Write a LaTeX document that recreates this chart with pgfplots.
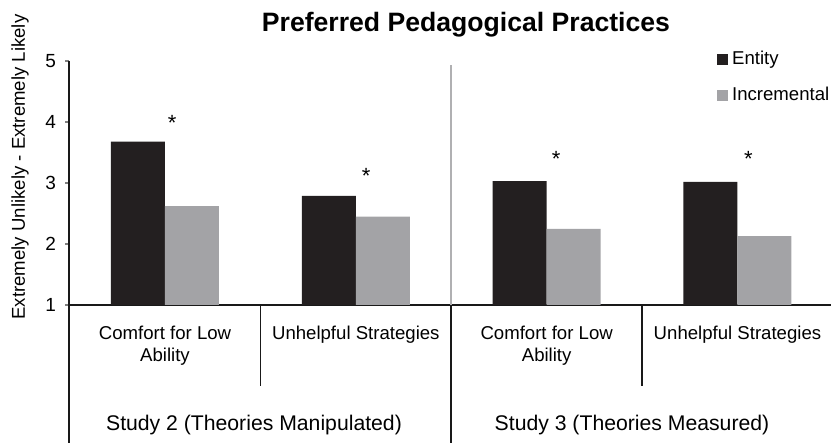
\documentclass[border=0pt]{standalone}
\usepackage{fontspec}
\setmainfont{Liberation Sans}
\usepackage{pgfplots}
\pgfplotsset{compat=1.18}
\definecolor{entity}{HTML}{231F20}
\definecolor{incr}{HTML}{A3A3A6}
\definecolor{sepgray}{HTML}{B0B0B2}
\begin{document}
\begin{tikzpicture}
\path[use as bounding box] (0pt,0pt) rectangle (415.5pt,-221.5pt);
\begin{axis}[
  at={(34.5pt,-152.5pt)}, anchor=south west,
  scale only axis, width=381pt, height=122pt,
  xmin=-0.503, xmax=3.49, ymin=1, ymax=5,
  axis lines=left, axis line style={-, line width=0.9pt, color=black!90},
  clip mode=individual,
  xtick={0,1,2,3},
  xticklabels={{Comfort for Low\\Ability},{Unhelpful Strategies},{Comfort for Low\\Ability},{Unhelpful Strategies}},
  xtick style={draw=none},
  xticklabel style={align=center, anchor=north, yshift=-5pt, font=\fontsize{9.3}{11}\selectfont},
  ytick={1,2,3,4,5},
  ytick style={line width=0.8pt},
  tick align=outside, major tick length=2pt,
  yticklabel style={font=\fontsize{9.5}{11}\selectfont, xshift=-1pt},
  /pgf/number format/assume math mode=true,
  legend style={at={(axis description cs:0.85,1.06)}, anchor=north west, draw=none, fill=none,
    font=\fontsize{9.3}{11}\selectfont, row sep=6pt, inner sep=0pt},
  legend cell align=left,
  legend image code/.code={\fill[#1] (0pt,-2.75pt) rectangle (5.5pt,2.75pt);},
]
\addplot[ybar, bar width=0.283, bar shift=-0.1415, fill=entity, draw=none]
  coordinates {(0,3.68) (1,2.79) (2,3.03) (3,3.02)};
\addlegendentry{Entity}
\addplot[ybar, bar width=0.283, bar shift=0.1415, fill=incr, draw=none]
  coordinates {(0,2.62) (1,2.45) (2,2.25) (3,2.13)};
\addlegendentry{Incremental}
% significance markers
\node[anchor=north, inner sep=0pt, font=\fontsize{11}{13}\selectfont] at (axis cs:0.037,4.12) {*};
\node[anchor=north, inner sep=0pt, font=\fontsize{11}{13}\selectfont] at (axis cs:1.054,3.24) {*};
\node[anchor=north, inner sep=0pt, font=\fontsize{11}{13}\selectfont] at (axis cs:2.05,3.52) {*};
\node[anchor=north, inner sep=0pt, font=\fontsize{11}{13}\selectfont] at (axis cs:3.057,3.53) {*};
% dividers
\draw[line width=0.9pt, black!90] (axis cs:0.5,1) -- ++(0pt,-40.5pt);
\draw[line width=0.9pt, black!90] (axis cs:2.5,1) -- ++(0pt,-40.5pt);
\draw[line width=1pt, sepgray] (axis cs:1.5,4.93) -- (axis cs:1.5,1);
\draw[line width=0.9pt, black!90] (axis cs:1.5,1) -- ++(0pt,-69pt);
\draw[line width=0.9pt, black!90] (axis cs:-0.503,1) -- ++(0pt,-69pt);
\end{axis}
\node[anchor=base, font=\bfseries\fontsize{13.3}{15}\selectfont] at (233pt,-16pt) {Preferred Pedagogical Practices};
\node[rotate=90, font=\fontsize{9.3}{11}\selectfont] at (10pt,-83.5pt) {Extremely Unlikely - Extremely Likely};
\node[anchor=base, font=\fontsize{10.6}{13}\selectfont] at (127pt,-215.5pt) {Study 2 (Theories Manipulated)};
\node[anchor=base, font=\fontsize{10.6}{13}\selectfont] at (316pt,-215.5pt) {Study 3 (Theories Measured)};
\end{tikzpicture}
\end{document}
